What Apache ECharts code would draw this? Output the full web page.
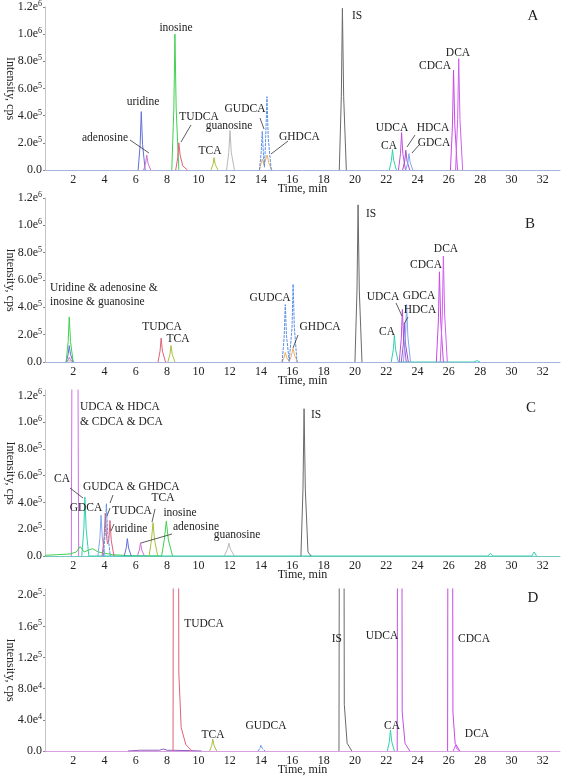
<!DOCTYPE html>
<html><head><meta charset="utf-8">
<script src="https://cdn.jsdelivr.net/npm/echarts@6/dist/echarts.min.js"></script>
<style>html,body{margin:0;padding:0;background:#fff}#c{width:567px;height:780px}</style>
</head><body><div id="c"></div>
<script>
// ---------- data ----------
const xTickLabels = [2,4,6,8,10,12,14,16,18,20,22,24,26,28,30,32];
const yTicksABC = [0,2e5,4e5,6e5,8e5,1e6,1.2e6];
const yTicksD = [0,4e4,8e4,1.2e5,1.6e5,2e5];

// Panel A traces [time(min), intensity(cps)]
const A_uridine   = [[6.15,0],[6.28,1.9e5],[6.35,4.3e5],[6.43,1.9e5],[6.6,0]];
const A_adenosine = [[6.5,0],[6.63,0.5e5],[6.7,1.1e5],[6.78,0.5e5],[6.95,0]];
const A_inosine   = [[8.3,0],[8.43,4.5e5],[8.5,1.0e6],[8.58,4.5e5],[8.75,0]];
const A_TUDCA     = [[8.55,0],[8.68,0.9e5],[8.75,2.0e5],[8.83,1.1e5],[9.0,0.3e5],[9.3,0]];
const A_TCA       = [[10.8,0],[10.93,0.4e5],[11.0,0.9e5],[11.08,0.4e5],[11.25,0]];
const A_guanosine = [[11.8,0],[11.94,1.3e5],[12.02,2.9e5],[12.1,1.3e5],[12.3,0]];
const A_GUDCA     = [[13.9,0],[14.01,1.3e5],[14.08,2.85e5],[14.16,1.0e5],[14.22,0.2e5],[14.3,2.4e5],[14.38,5.4e5],[14.46,2.4e5],[14.65,0]];
const A_GHDCA     = [[13.9,0],[14.0,0.5e5],[14.08,0.8e5],[14.18,0.4e5],[14.26,0.3e5],[14.4,1.1e5],[14.5,0.5e5],[14.7,0]];
const A_IS        = [[19.0,0],[19.13,5.4e5],[19.2,1.19e6],[19.28,5.4e5],[19.45,0]];
const A_CA        = [[22.2,0],[22.33,0.7e5],[22.4,1.5e5],[22.48,0.7e5],[22.65,0]];
const A_UDCA      = [[22.78,0],[22.91,1.2e5],[22.98,2.75e5],[23.06,1.2e5],[23.23,0]];
const A_HDCA      = [[23.05,0],[23.18,0.65e5],[23.25,1.45e5],[23.33,0.65e5],[23.5,0]];
const A_GDCA      = [[23.25,0],[23.38,0.55e5],[23.45,1.2e5],[23.53,0.55e5],[23.7,0]];
const A_CDCA      = [[26.1,0],[26.23,3.3e5],[26.3,7.35e5],[26.38,3.3e5],[26.55,0]];
const A_DCA       = [[26.43,0],[26.56,3.7e5],[26.63,8.2e5],[26.71,3.7e5],[26.88,0]];

// Panel B
const B_uridine   = [[1.55,0],[1.68,0.55e5],[1.75,1.2e5],[1.83,0.55e5],[2.0,0]];
const B_inosine   = [[1.55,0],[1.68,1.5e5],[1.75,3.3e5],[1.83,1.5e5],[2.0,0]];
const B_adenosine = [[1.55,0],[1.68,0.15e5],[1.75,0.35e5],[1.83,0.15e5],[2.0,0]];
const B_guanosine = [[1.55,0],[1.7,0.08e5],[1.78,0.2e5],[1.86,0.08e5],[2.05,0]];
const B_TUDCA     = [[7.42,0],[7.55,0.8e5],[7.62,1.75e5],[7.7,0.8e5],[7.9,0]];
const B_TCA       = [[8.05,0],[8.18,0.55e5],[8.25,1.2e5],[8.33,0.55e5],[8.5,0]];
const B_GUDCA     = [[15.35,0],[15.48,1.9e5],[15.55,4.2e5],[15.63,1.9e5],[15.8,0.05e5],[15.85,0],[15.98,2.5e5],[16.05,5.7e5],[16.13,2.5e5],[16.3,0]];
const B_GHDCA     = [[15.35,0],[15.48,0.35e5],[15.55,0.7e5],[15.65,0.3e5],[15.8,0.05e5],[15.9,0.3e5],[16.05,1.0e5],[16.15,0.45e5],[16.35,0]];
const B_IS        = [[20.0,0],[20.13,5.2e5],[20.2,1.15e6],[20.28,5.2e5],[20.45,0]];
const B_CA        = [[22.32,0],[22.45,0.9e5],[22.52,1.95e5],[22.6,0.9e5],[22.77,0],[27.6,0],[27.8,0.1e5],[28.0,0]];
const B_UDCA      = [[22.83,0],[22.96,1.7e5],[23.03,3.85e5],[23.11,1.7e5],[23.28,0]];
const B_HDCA      = [[22.96,0],[23.09,1.25e5],[23.16,2.8e5],[23.24,1.25e5],[23.41,0]];
const B_GDCA      = [[23.1,0],[23.23,1.9e5],[23.3,4.2e5],[23.38,1.9e5],[23.55,0]];
const B_CDCA      = [[25.2,0],[25.33,3.0e5],[25.4,6.6e5],[25.48,3.0e5],[25.65,0]];
const B_DCA       = [[25.45,0],[25.58,3.5e5],[25.65,7.75e5],[25.73,3.5e5],[25.9,0]];

// Panel C
const C_mix       = [[1.88,0],[1.95,2.5e6],[2.0,4e6],[2.2,4e6],[2.27,2.5e6],[2.35,0]];
const C_CA        = [[2.55,0],[2.68,2.0e5],[2.75,4.4e5],[2.83,2.0e5],[3.0,0],[22.8,0],[22.9,0.1e5],[23.0,0],[28.5,0],[28.65,0.2e5],[28.8,0],[31.3,0],[31.45,0.3e5],[31.6,0]];
const C_inosine   = [[0.2,0.05e5],[1.0,0.1e5],[1.8,0.15e5],[2.2,0.3e5],[2.45,0.7e5],[2.7,0.3e5],[3.0,0.45e5],[3.25,0.55e5],[3.6,0.3e5],[4.5,0.1e5],[5.5,0.03e5],[7.65,0],[7.82,1.2e5],[7.95,2.6e5],[8.08,1.2e5],[8.35,0]];
const C_GDCA      = [[3.58,0],[3.71,1.4e5],[3.78,3.05e5],[3.86,1.4e5],[4.03,0]];
const C_GUDCA     = [[3.92,0],[4.05,1.75e5],[4.12,3.9e5],[4.2,1.75e5],[4.37,0]];
const C_TUDCA     = [[3.85,0],[3.98,1.45e5],[4.05,3.2e5],[4.13,1.45e5],[4.2,0.9e5],[4.28,1.2e5],[4.35,2.65e5],[4.43,1.2e5],[4.6,0]];
const C_uridine   = [[5.26,0],[5.39,0.6e5],[5.46,1.3e5],[5.54,0.6e5],[5.71,0]];
const C_adenosine = [[6.1,0],[6.23,0.45e5],[6.3,1.0e5],[6.38,0.45e5],[6.55,0]];
const C_TCA       = [[6.85,0],[7.0,1.2e5],[7.1,2.5e5],[7.2,1.2e5],[7.4,0]];
const C_guanosine = [[11.65,0],[11.85,0.5e5],[11.95,0.95e5],[12.05,0.5e5],[12.3,0]];
const C_IS        = [[16.55,0],[16.68,5.0e5],[16.75,1.1e6],[16.83,5.0e5],[17.0,0.3e5],[17.2,0]];

// Panel D
const D_TUDCA     = [[8.38,0],[8.45,1.2e6],[8.55,2e6],[8.65,1.2e6],[8.75,1.0e5],[8.9,0.3e5],[9.2,0.08e5],[9.6,0]];
const D_other     = [[5.5,0],[6.3,0.1e4],[7.5,0.1e4],[7.77,0.25e4],[8.0,0.1e4],[9.5,0.05e4],[10.2,0]];
const D_TCA       = [[10.72,0],[10.85,0.7e4],[10.92,1.5e4],[11.0,0.7e4],[11.17,0]];
const D_GUDCA     = [[13.8,0],[13.93,0.35e4],[14.0,0.75e4],[14.08,0.35e4],[14.25,0]];
const D_IS        = [[18.98,0],[19.06,1.0e6],[19.15,2e6],[19.24,1.0e6],[19.32,0.6e5],[19.5,0.1e5],[19.8,0]];
const D_CA        = [[22.07,0],[22.2,1.2e4],[22.27,2.7e4],[22.35,1.2e4],[22.52,0]];
const D_UDCA      = [[22.7,0],[22.76,1.0e6],[22.85,2e6],[22.94,1.0e6],[23.02,0.5e5],[23.2,0.1e5],[23.5,0]];
const D_CDCA      = [[25.92,0],[25.98,1.0e6],[26.08,2e6],[26.18,1.0e6],[26.26,0.5e5],[26.4,0.1e5],[26.7,0]];
const D_DCA       = [[26.28,0],[26.36,0.4e4],[26.42,0.75e4],[26.5,0.3e4],[26.7,0]];

const panelA = [['guanosine',A_guanosine],['uridine',A_uridine],['adenosine',A_adenosine],['inosine',A_inosine],['TUDCA',A_TUDCA],['TCA',A_TCA],['GHDCA',A_GHDCA],['GUDCA',A_GUDCA],['IS',A_IS],['CA',A_CA],['UDCA',A_UDCA],['HDCA',A_HDCA],['GDCA',A_GDCA],['CDCA',A_CDCA],['DCA',A_DCA]];
const panelB = [['guanosine',B_guanosine],['adenosine',B_adenosine],['uridine',B_uridine],['inosine',B_inosine],['TUDCA',B_TUDCA],['TCA',B_TCA],['GHDCA',B_GHDCA],['GUDCA',B_GUDCA],['IS',B_IS],['CA',B_CA],['UDCA',B_UDCA],['HDCA',B_HDCA],['GDCA',B_GDCA],['CDCA',B_CDCA],['DCA',B_DCA]];
const panelC = [['mix',C_mix],['inosine',C_inosine],['CA',C_CA],['GDCA',C_GDCA],['TUDCA',C_TUDCA],['GUDCA',C_GUDCA],['uridine',C_uridine],['adenosine',C_adenosine],['TCA',C_TCA],['guanosine',C_guanosine],['IS',C_IS]];
const panelD = [['other',D_other],['TUDCA',D_TUDCA],['TCA',D_TCA],['GUDCA',D_GUDCA],['IS',D_IS],['CA',D_CA],['UDCA',D_UDCA],['CDCA',D_CDCA],['DCA',D_DCA]];

// ---------- styles / layout ----------
const colors = {uridine:'#6070d8',adenosine:'#d070d0',inosine:'#40d050',TUDCA:'#e06078',TCA:'#a8c040',
  guanosine:'#b8b8b8',GUDCA:'#5a8ee8',GHDCA:'#f0b060',IS:'#6a6a6a',CA:'#30d0b0',UDCA:'#c050e0',
  HDCA:'#a050d0',GDCA:'#80a8f0',CDCA:'#c848e8',DCA:'#d060f0',mix:'#d070e8',other:'#9060c0'};
const SERIF = '"Liberation Serif","DejaVu Serif",serif';
const grids = [
  {left:45, top:7,   width:515, height:163, outerBoundsMode:'none', containLabel:false},
  {left:45, top:198, width:515, height:164, outerBoundsMode:'none', containLabel:false},
  {left:45, top:390, width:515, height:166, outerBoundsMode:'none', containLabel:false},
  {left:45, top:589, width:515, height:162, outerBoundsMode:'none', containLabel:false}];
const yMax = [1.2e6, 1.2e6, 1.24e6, 2.08e5];
const baseColors = ['#a8b4dc','#a8b4dc','#70c8c0','#d8a0e0'];

function yFmt(v){
  if (v === 0) return '0.0';
  const e = Math.floor(Math.log10(v) + 1e-9);
  return (v/Math.pow(10,e)).toFixed(1) + 'e{s|' + e + '}';
}

const xAxes = grids.map((g,i)=>({
  gridIndex:i, type:'value', min:0.2, max:33.1,
  name:'Time, min', nameLocation:'middle', nameGap:13, nameMoveOverlap:false,
  nameTextStyle:{fontFamily:SERIF, fontSize:12, color:'#222'},
  axisLine:{show:true, lineStyle:{color:baseColors[i], width:1}},
  axisTick:{show:false, customValues:xTickLabels},
  axisLabel:{customValues:xTickLabels, fontFamily:SERIF, fontSize:12, color:'#222', margin:4},
  splitLine:{show:false}
}));
const yAxes = grids.map((g,i)=>({
  gridIndex:i, type:'value', min:0, max:yMax[i],
  name:'Intensity, cps', nameLocation:'middle', nameGap:29, nameRotate:-90, nameMoveOverlap:false,
  nameTextStyle:{fontFamily:SERIF, fontSize:12, color:'#222'},
  axisLine:{show:true, lineStyle:{color:'#c4c4c4', width:1}},
  axisTick:{show:true, length:2, customValues:(i===3?yTicksD:yTicksABC), lineStyle:{color:'#888'}},
  axisLabel:{customValues:(i===3?yTicksD:yTicksABC), formatter:yFmt, fontFamily:SERIF, fontSize:12, color:'#222', margin:3,
    rich:{s:{fontFamily:SERIF, fontSize:8, color:'#222', verticalAlign:'top', padding:[0,0,6,0]}}},
  splitLine:{show:false}
}));

const series = [];
[panelA,panelB,panelC,panelD].forEach((panel,pi)=>{
  panel.forEach(([name,pts])=>{
    series.push({type:'line', name:name, xAxisIndex:pi, yAxisIndex:pi, data:pts,
      showSymbol:false, symbol:'none', clip:true, silent:true, animation:false,
      lineStyle:{color:colors[name], width:1, type:(name==='GUDCA'?[3,1]:'solid')}});
  });
});

// annotations: [text, x, y, align]
const labels = [
  ['inosine',176,28,'center'],['uridine',143,102,'center'],['adenosine',128,138,'right'],
  ['TUDCA',199,117,'center'],['guanosine',229,126,'center'],['TCA',210,151,'center'],
  ['GUDCA',245,109,'center'],['GHDCA',279,137,'left'],['IS',352,16,'left'],['A',533,16,'center'],
  ['DCA',458,53,'center'],['CDCA',435,66,'center'],['UDCA',392,128,'center'],['HDCA',433,128,'center'],
  ['CA',389,146,'center'],['GDCA',434,143,'center'],
  ['Uridine & adenosine &',50,288,'left'],['inosine & guanosine',50,302,'left'],
  ['TUDCA',162,327,'center'],['TCA',178,339,'center'],['GUDCA',270,298,'center'],['GHDCA',320,327,'center'],
  ['IS',366,214,'left'],['B',530,224,'center'],['DCA',446,249,'center'],['CDCA',426,265,'center'],
  ['UDCA',383,297,'center'],['GDCA',419,296,'center'],['HDCA',420,310,'center'],['CA',387,332,'center'],
  ['UDCA & HDCA',80,407,'left'],['& CDCA & DCA',80,422,'left'],['CA',62,479,'center'],
  ['GUDCA & GHDCA',83,487,'left'],['GDCA',86,508,'center'],['TUDCA',132,511,'center'],
  ['uridine',131,529,'center'],['TCA',163,498,'center'],['inosine',180,513,'center'],
  ['adenosine',196,527,'center'],['guanosine',237,535,'center'],['IS',311,415,'left'],['C',531,408,'center'],
  ['TUDCA',204,624,'center'],['TCA',213,735,'center'],['GUDCA',266,726,'center'],['IS',342,639,'right'],
  ['UDCA',382,636,'center'],['CDCA',474,639,'center'],['CA',392,726,'center'],['DCA',477,734,'center'],
  ['D',533,598,'center']
];
const leaders = [
  [130,140,149,153],[191,125,181,142],[260,118,264,129],[288,141,271,154],[415,135,407,147],[419,145,412,153],
  [298,335,293,348],[396,303,402,316],[408,317,404,324],
  [70,488,83,498],[113,495,110,503],[110,508,107,516],[114,524,111,531],[155,509,152,522],[172,534,141,543]
];
const graphic = [];
labels.forEach(([t,x,y,a])=>{
  const big = t.length===1;
  graphic.push({type:'text', x:x, y:y, silent:true, z:100, style:{text:t, fill:'#222',
    font:(big?'15px ':'11.5px ')+SERIF, textAlign:a, textVerticalAlign:'middle'}});
});
leaders.forEach(([x1,y1,x2,y2])=>{
  graphic.push({type:'line', silent:true, z:100, shape:{x1,y1,x2,y2}, style:{stroke:'#333', lineWidth:0.8}});
});

const chart = echarts.init(document.getElementById('c'), null, {renderer:'canvas'});
chart.setOption({
  animation:false, backgroundColor:'#fff',
  grid:grids, xAxis:xAxes, yAxis:yAxes, series:series, graphic:graphic
});
</script></body></html>
